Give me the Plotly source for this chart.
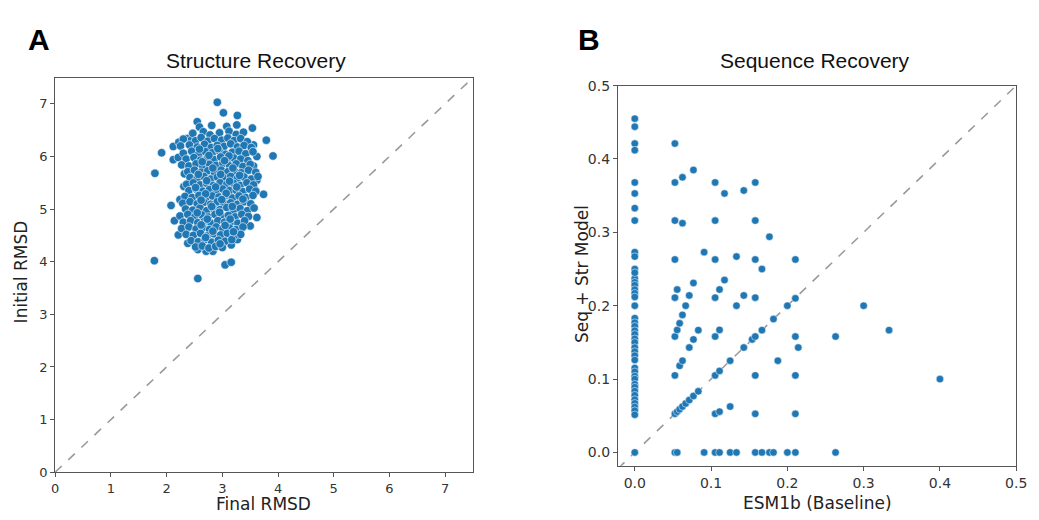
import plotly.graph_objects as go

# ---------------- Panel A: Structure Recovery ----------------
structure_points = [
    # outliers
    (2.91, 7.03), (3.02, 6.83), (3.27, 6.78), (2.55, 6.66), (2.59, 6.56), (2.81, 6.59),
    (3.08, 6.57), (3.26, 6.60), (3.54, 6.54), (3.79, 6.31), (3.91, 6.01), (1.91, 6.07),
    (1.79, 5.68), (1.78, 4.02), (2.56, 3.68), (3.05, 3.94), (3.16, 3.99), (3.74, 5.28),
    (3.62, 4.84), (3.50, 4.68), (2.08, 5.07), (2.14, 4.78), (2.21, 4.51), (2.38, 4.35),
    (2.56, 4.23), (2.71, 4.20), (2.83, 4.20), (3.00, 4.32), (3.16, 4.32), (3.27, 4.42),
    (2.12, 6.19), (2.22, 6.27), (2.37, 6.34), (2.44, 6.31), (2.12, 5.94), (2.21, 5.98),
    (2.32, 5.67), (2.31, 5.43), (2.24, 5.18), (3.56, 6.22), (3.62, 6.00), (3.56, 5.82),
    (3.62, 5.55), (3.59, 5.36),
    # core
    (2.47, 6.44), (2.66, 6.47), (2.78, 6.41), (2.95, 6.45), (3.12, 6.48), (3.25, 6.42), (3.38, 6.46),
    (2.30, 6.33), (2.52, 6.30), (2.62, 6.36), (2.74, 6.29), (2.86, 6.34), (2.99, 6.31), (3.10, 6.35),
    (3.21, 6.30), (3.33, 6.34), (3.45, 6.28),
    (2.25, 6.20), (2.41, 6.22), (2.55, 6.18), (2.68, 6.23), (2.80, 6.17), (2.91, 6.21), (3.03, 6.19),
    (3.15, 6.24), (3.27, 6.18), (3.39, 6.21), (3.52, 6.17),
    (2.30, 6.06), (2.45, 6.10), (2.58, 6.05), (2.70, 6.09), (2.82, 6.07), (2.94, 6.11), (3.06, 6.04),
    (3.18, 6.08), (3.30, 6.10), (3.42, 6.05), (3.55, 6.09),
    (2.35, 5.95), (2.49, 5.98), (2.61, 5.93), (2.73, 5.97), (2.85, 5.94), (2.97, 5.99), (3.09, 5.93),
    (3.21, 5.97), (3.33, 5.95), (3.46, 5.92),
    (2.27, 5.84), (2.40, 5.82), (2.53, 5.86), (2.65, 5.81), (2.77, 5.85), (2.89, 5.83), (3.01, 5.87),
    (3.13, 5.82), (3.25, 5.86), (3.37, 5.81), (3.50, 5.85),
    (2.38, 5.71), (2.50, 5.74), (2.62, 5.70), (2.74, 5.73), (2.86, 5.69), (2.98, 5.74), (3.10, 5.71),
    (3.22, 5.72), (3.34, 5.69), (3.47, 5.74), (3.60, 5.70),
    (2.42, 5.60), (2.55, 5.58), (2.67, 5.62), (2.79, 5.57), (2.91, 5.61), (3.03, 5.59), (3.15, 5.62),
    (3.27, 5.58), (3.39, 5.61), (3.52, 5.57), (3.64, 5.62),
    (2.36, 5.47), (2.48, 5.50), (2.60, 5.46), (2.72, 5.49), (2.84, 5.45), (2.96, 5.50), (3.08, 5.47),
    (3.20, 5.49), (3.32, 5.45), (3.44, 5.50), (3.56, 5.46),
    (2.40, 5.35), (2.53, 5.38), (2.65, 5.34), (2.77, 5.37), (2.89, 5.33), (3.01, 5.38), (3.13, 5.35),
    (3.25, 5.36), (3.37, 5.33), (3.49, 5.38), (3.60, 5.34),
    (2.33, 5.24), (2.46, 5.22), (2.58, 5.26), (2.70, 5.21), (2.82, 5.25), (2.94, 5.23), (3.06, 5.26),
    (3.18, 5.21), (3.30, 5.25), (3.42, 5.22), (3.55, 5.26),
    (2.29, 5.11), (2.42, 5.14), (2.55, 5.10), (2.67, 5.13), (2.79, 5.09), (2.91, 5.14), (3.03, 5.11),
    (3.15, 5.12), (3.27, 5.09), (3.39, 5.14), (3.51, 5.10),
    (2.34, 5.00), (2.47, 4.98), (2.60, 5.02), (2.72, 4.97), (2.84, 5.01), (2.96, 4.99), (3.08, 5.03),
    (3.20, 4.98), (3.32, 5.01), (3.45, 4.97), (3.57, 5.02),
    (2.24, 4.87), (2.38, 4.90), (2.51, 4.86), (2.63, 4.89), (2.75, 4.85), (2.87, 4.90), (2.99, 4.87),
    (3.11, 4.88), (3.23, 4.85), (3.35, 4.90), (3.47, 4.86),
    (2.30, 4.75), (2.43, 4.78), (2.56, 4.74), (2.68, 4.77), (2.80, 4.73), (2.92, 4.78), (3.04, 4.75),
    (3.16, 4.76), (3.28, 4.73), (3.40, 4.78),
    (2.27, 4.63), (2.40, 4.66), (2.53, 4.62), (2.65, 4.65), (2.77, 4.61), (2.89, 4.66), (3.01, 4.63),
    (3.13, 4.64), (3.25, 4.61), (3.37, 4.66),
    (2.35, 4.52), (2.48, 4.50), (2.61, 4.54), (2.73, 4.49), (2.85, 4.53), (2.97, 4.51), (3.09, 4.54),
    (3.21, 4.49), (3.33, 4.52),
    (2.44, 4.40), (2.57, 4.38), (2.69, 4.42), (2.81, 4.37), (2.93, 4.41), (3.05, 4.39), (3.17, 4.42),
    (2.52, 4.28), (2.64, 4.30), (2.76, 4.26), (2.88, 4.29), (3.00, 4.27),
    # second layer, dense centre
    (2.59, 6.14), (2.76, 6.02), (2.92, 6.15), (3.12, 6.01), (2.64, 5.90), (2.83, 5.78), (3.04, 5.92),
    (3.19, 5.78), (2.57, 5.66), (2.72, 5.54), (2.97, 5.66), (3.13, 5.53), (3.31, 5.64), (2.52, 5.41),
    (2.70, 5.29), (2.88, 5.42), (3.07, 5.30), (3.26, 5.42), (2.62, 5.17), (2.81, 5.05), (2.99, 5.18),
    (3.18, 5.05), (3.37, 5.19), (2.55, 4.93), (2.73, 4.81), (2.95, 4.94), (3.14, 4.81), (2.62, 4.70),
    (2.83, 4.58), (3.05, 4.69), (3.20, 4.57), (2.70, 4.46), (2.96, 4.34),
]
final_rmsd = [p[0] for p in structure_points]
initial_rmsd = [p[1] for p in structure_points]

# ---------------- Panel B: Sequence Recovery ----------------
esm1b_baseline = [
    # x = 0 column
    0, 0, 0, 0, 0, 0, 0, 0, 0, 0, 0, 0, 0, 0, 0, 0, 0, 0, 0, 0, 0, 0, 0, 0, 0, 0, 0, 0, 0, 0,
    0, 0, 0, 0, 0, 0, 0, 0, 0, 0, 0, 0, 0, 0,
    # other columns
    0.0526, 0.0526, 0.0526, 0.0526, 0.0526, 0.0526, 0.0526, 0.0526, 0.0526,
    0.0556, 0.0556, 0.0556, 0.0556,
    0.0588, 0.0588, 0.0588,
    0.0625, 0.0625, 0.0625, 0.0625, 0.0625,
    0.0667, 0.0667,
    0.0714, 0.0714, 0.0714,
    0.0769, 0.0769, 0.0769, 0.0769,
    0.0833, 0.0833,
    0.0909, 0.0909,
    0.1053, 0.1053, 0.1053, 0.1053, 0.1053, 0.1053, 0.1053, 0.1053,
    0.1111, 0.1111, 0.1111, 0.1111, 0.1111,
    0.1176, 0.1176,
    0.125, 0.125, 0.125,
    0.1333, 0.1333, 0.1333,
    0.1429, 0.1429, 0.1429,
    0.1538,
    0.1579, 0.1579, 0.1579, 0.1579, 0.1579, 0.1579, 0.1579, 0.1579,
    0.1667, 0.1667, 0.1667,
    0.1765, 0.1765,
    0.1818, 0.1818,
    0.1875,
    0.2, 0.2,
    0.2105, 0.2105, 0.2105, 0.2105, 0.2105, 0.2105,
    0.2143,
    0.2632, 0.2632,
    0.3, 0.3333, 0.4,
]
seq_str_model = [
    0.455, 0.444, 0.421, 0.412, 0.368, 0.353, 0.333, 0.316, 0.273, 0.267, 0.25, 0.237, 0.232, 0.228,
    0.222, 0.217, 0.212, 0.2, 0.183, 0.177, 0.172, 0.166, 0.161, 0.155, 0.15, 0.143, 0.1375, 0.132,
    0.126, 0.115, 0.11, 0.104, 0.1, 0.093, 0.089, 0.0836, 0.078, 0.072, 0.067, 0.062, 0.057, 0.0513,
    0.0, 0.245,
    0.421, 0.368, 0.316, 0.263, 0.211, 0.158, 0.105, 0.0526, 0.0,
    0.222, 0.167, 0.0556, 0.0,
    0.176, 0.118, 0.0588,
    0.375, 0.3125, 0.1875, 0.125, 0.0625,
    0.2, 0.0667,
    0.214, 0.143, 0.0714,
    0.385, 0.231, 0.154, 0.0769,
    0.1667, 0.0833,
    0.273, 0.0,
    0.368, 0.316, 0.263, 0.211, 0.158, 0.105, 0.0526, 0.0,
    0.222, 0.167, 0.111, 0.0556, 0.0,
    0.353, 0.235,
    0.125, 0.0625, 0.0,
    0.267, 0.2, 0.0,
    0.357, 0.214, 0.143,
    0.154,
    0.368, 0.316, 0.263, 0.211, 0.158, 0.105, 0.0526, 0.0,
    0.25, 0.1667, 0.0,
    0.294, 0.0,
    0.1818, 0.0,
    0.125,
    0.2, 0.0,
    0.263, 0.21, 0.158, 0.105, 0.0526, 0.0,
    0.143,
    0.158, 0.0,
    0.2, 0.1667, 0.1,
]

a_ticks = [0, 1, 2, 3, 4, 5, 6, 7]
b_ticks = [0.0, 0.1, 0.2, 0.3, 0.4, 0.5]
a_range = [0, 7.5]
b_range = [-0.022, 0.5]

BLUE = "#1f77b4"
fig = go.Figure()

fig.add_trace(go.Scatter(x=a_range, y=a_range, mode="lines", xaxis="x", yaxis="y",
                         line=dict(color="#9a9a9a", width=1.6, dash="dash"), hoverinfo="skip"))
fig.add_trace(go.Scatter(x=final_rmsd, y=initial_rmsd, mode="markers", xaxis="x", yaxis="y",
                         marker=dict(color=BLUE, size=8.5, line=dict(color="white", width=0.6))))
fig.add_trace(go.Scatter(x=b_range, y=b_range, mode="lines", xaxis="x2", yaxis="y2",
                         line=dict(color="#9a9a9a", width=1.6, dash="dash"), hoverinfo="skip"))
fig.add_trace(go.Scatter(x=esm1b_baseline, y=seq_str_model, mode="markers", xaxis="x2", yaxis="y2",
                         marker=dict(color=BLUE, size=7.5, line=dict(color="white", width=0.5))))

def axis_style(fs):
    return dict(showline=True, linecolor="#555555", linewidth=1.2, mirror=True, ticks="outside",
                ticklen=4, tickcolor="#555555", showgrid=False, zeroline=False,
                tickfont=dict(family="DejaVu Sans", size=fs, color="#333333"))

fig.update_layout(
    width=1039, height=520, margin=dict(l=0, r=0, t=0, b=0),
    paper_bgcolor="white", plot_bgcolor="white", showlegend=False,
    xaxis=dict(domain=[0.050, 0.458], range=a_range, tickvals=a_ticks, anchor="y", **axis_style(13)),
    yaxis=dict(domain=[0.079, 0.862], range=a_range, tickvals=a_ticks, anchor="x", **axis_style(13)),
    xaxis2=dict(domain=[0.5996, 0.9885], range=b_range, tickvals=b_ticks, tickformat=".1f",
                anchor="y2", **axis_style(14)),
    yaxis2=dict(domain=[0.092, 0.846], range=[-0.018, 0.5], tickvals=b_ticks, tickformat=".1f",
                anchor="x2", **axis_style(14)),
)

ann_font = dict(family="Liberation Sans", color="#111111")
title_font = dict(size=17, family="DejaVu Sans", color="#222222")
annotations = [
    dict(text="<b>A</b>", x=36, y=33, font=dict(size=30, family="Liberation Sans", color="black")),
    dict(text="<b>B</b>", x=594, y=33, font=dict(size=30, family="Liberation Sans", color="black")),
    dict(text="Structure Recovery", x=256, y=54, font=dict(size=21, **ann_font)),
    dict(text="Sequence Recovery", x=823, y=54, font=dict(size=21, **ann_font)),
    dict(text="Final RMSD", x=263, y=512, font=title_font),
    dict(text="ESM1b (Baseline)", x=825, y=511, font=title_font),
]
for a in annotations:
    fig.add_annotation(xref="paper", yref="paper", x=a["x"] / 1039, y=1 - a["y"] / 520,
                       text=a["text"], showarrow=False, font=a["font"],
                       xanchor="center", yanchor="middle")
fig.add_annotation(xref="paper", yref="paper", x=17 / 1039, y=1 - 272 / 520, text="Initial RMSD",
                   textangle=-90, showarrow=False, xanchor="center", yanchor="middle", font=title_font)
fig.add_annotation(xref="paper", yref="paper", x=586 / 1039, y=1 - 275 / 520, text="Seq + Str Model",
                   textangle=-90, showarrow=False, xanchor="center", yanchor="middle", font=title_font)

fig.write_html("out.html")
